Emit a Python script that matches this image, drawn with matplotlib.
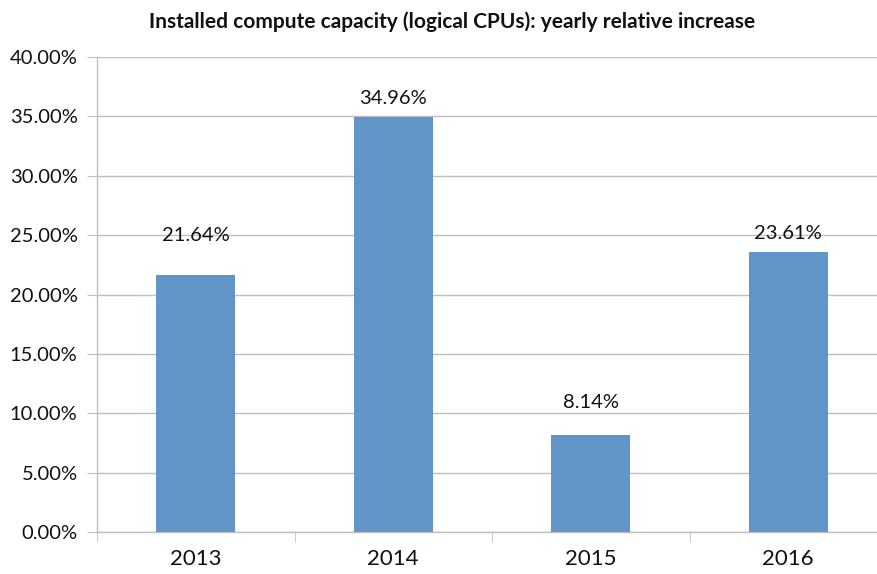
import matplotlib
matplotlib.use("Agg")
import matplotlib.pyplot as plt
from matplotlib.ticker import FuncFormatter, FixedLocator

years = ["2013", "2014", "2015", "2016"]
increase_pct = [21.64, 34.96, 8.14, 23.61]
# where the value labels sit in the original (y, in percent)
label_pos = [25.0, 36.5, 10.9, 25.1]

plt.rcParams["font.family"] = ["Lato", "DejaVu Sans"]

fig = plt.figure(figsize=(8.77, 5.74), dpi=100)
ax = fig.add_axes([97 / 877, 1 - 532 / 574, 790 / 877, 475 / 574])

x = range(len(years))
ax.bar(x, increase_pct, width=0.4, color="#6195c8", zorder=3)

for i, (v, p) in enumerate(zip(increase_pct, label_pos)):
    ax.text(i, p, f"{v:.2f}%", ha="center", va="center", fontsize=14.5, color="#111111")

ax.set_xlim(-0.5, len(years) - 0.5)
ax.set_ylim(0, 40)
ax.set_yticks(range(0, 41, 5))
ax.yaxis.set_major_formatter(FuncFormatter(lambda v, _: f"{v:.2f}%"))
ax.set_xticks(list(x))
ax.set_xticklabels(years)
ax.xaxis.set_minor_locator(FixedLocator([i - 0.5 for i in range(len(years) + 1)]))

ax.grid(axis="y", color="#bfbfbf", linewidth=1.0, zorder=0)
for s in ["top", "right"]:
    ax.spines[s].set_visible(False)
for s in ["left", "bottom"]:
    ax.spines[s].set_color("#bfbfbf")
    ax.spines[s].set_linewidth(1.0)

ax.tick_params(axis="y", length=7, color="#bfbfbf", labelsize=14.5, pad=7, labelcolor="#111111")
ax.tick_params(axis="x", which="major", length=0, labelsize=16, pad=12, labelcolor="#111111")
ax.tick_params(axis="x", which="minor", length=7, color="#bfbfbf")

fig.text(452 / 877, 1 - 22 / 574, "Installed compute capacity (logical CPUs): yearly relative increase",
         ha="center", va="center", fontsize=15, fontweight="bold", color="#111111")

fig.savefig("out.png", dpi=100)
